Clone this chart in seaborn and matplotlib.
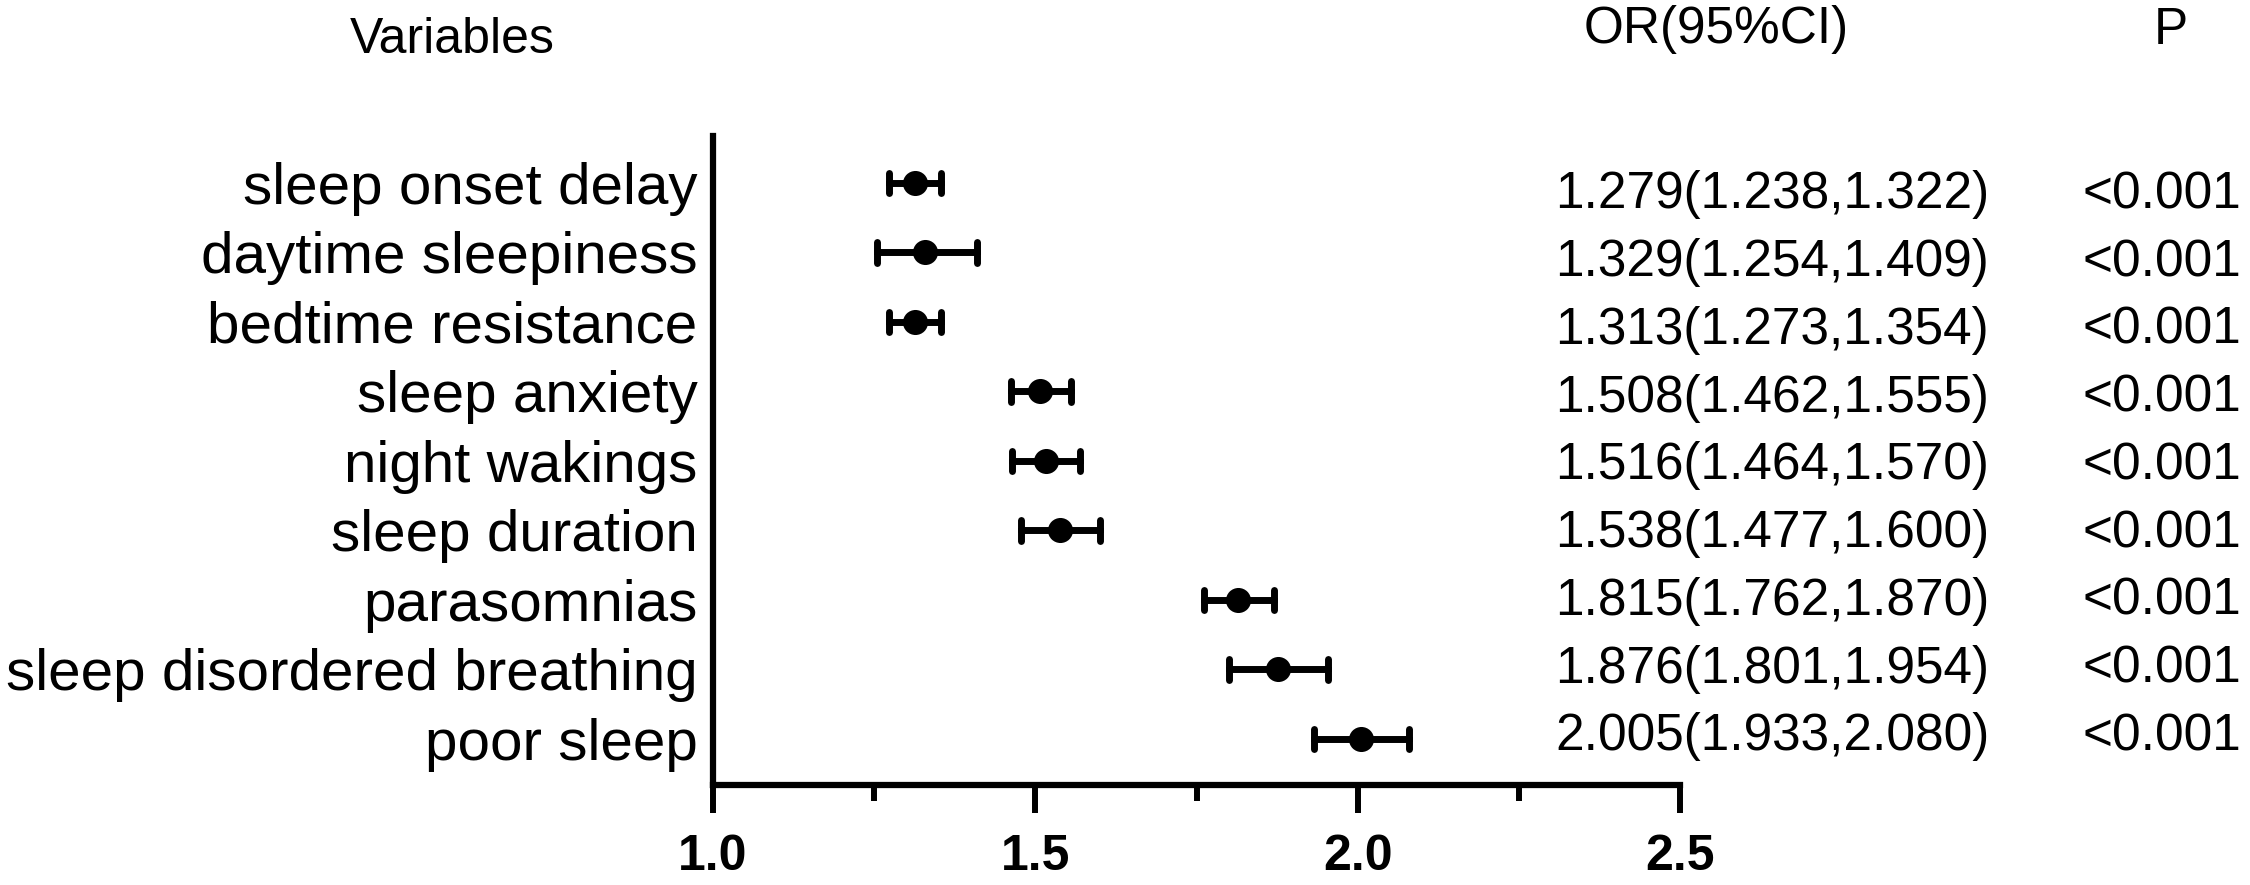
import numpy as np
import pandas as pd
import matplotlib
matplotlib.use("Agg")
import matplotlib.pyplot as plt
import matplotlib.transforms as mtrans
from matplotlib.ticker import MultipleLocator, FormatStrFormatter
import seaborn as sns

# Variables (top to bottom)
variables = ['sleep onset delay', 'daytime sleepiness', 'bedtime resistance',
             'sleep anxiety', 'night wakings', 'sleep duration', 'parasomnias',
             'sleep disordered breathing', 'poor sleep']
# Plotted OR and CI (first row is drawn at the bedtime resistance value)
or_plot = [1.313, 1.329, 1.313, 1.508, 1.516, 1.538, 1.815, 1.876, 2.005]
ci_low = [1.273, 1.254, 1.273, 1.462, 1.464, 1.477, 1.762, 1.801, 1.933]
ci_high = [1.354, 1.409, 1.354, 1.555, 1.570, 1.600, 1.870, 1.954, 2.080]
# Text columns
or_text = ['1.279(1.238,1.322)', '1.329(1.254,1.409)', '1.313(1.273,1.354)',
           '1.508(1.462,1.555)', '1.516(1.464,1.570)', '1.538(1.477,1.600)',
           '1.815(1.762,1.870)', '1.876(1.801,1.954)', '2.005(1.933,2.080)']
p_text = ['<0.001'] * 9
x_ticks = [1.0, 1.5, 2.0, 2.5]

# long table: low / OR / high per variable -> median = OR, 100% interval = CI
df = pd.DataFrame({
    'variable': np.repeat(variables, 3),
    'value': np.ravel(np.column_stack([ci_low, or_plot, ci_high])),
})

sns.set_style('white')
plt.rcParams['font.family'] = ['Liberation Sans', 'DejaVu Sans']
plt.rcParams['text.color'] = 'black'
plt.rcParams['xtick.color'] = 'black'
plt.rcParams['ytick.color'] = 'black'
plt.rcParams['xtick.labelcolor'] = 'black'
plt.rcParams['ytick.labelcolor'] = 'black'

fig = plt.figure(figsize=(22.5, 8.85), dpi=100)
ax = fig.add_axes([713 / 2250, 100 / 885, (1680 - 713) / 2250, 649 / 885])

sns.pointplot(data=df, x='value', y='variable', order=variables, orient='h',
              estimator='median', errorbar=('pi', 100), color='black',
              linestyle='none', markers='o', markersize=16, capsize=0.3,
              err_kws={'linewidth': 5}, ax=ax)

ax.set_xlim(1.0, 2.5)
ax.set_ylim(8.662, -0.676)
ax.xaxis.set_major_locator(MultipleLocator(0.5))
ax.xaxis.set_minor_locator(MultipleLocator(0.25))
ax.xaxis.set_major_formatter(FormatStrFormatter('%.1f'))
ax.set_xticks(x_ticks)
ax.tick_params(axis='x', which='major', length=20, width=4.3, pad=15,
               labelsize=36, color='black', bottom=True)
ax.tick_params(axis='x', which='minor', length=11.5, width=4.3, color='black', bottom=True)
for lab in ax.get_xticklabels():
    lab.set_fontweight('bold')
ax.tick_params(axis='y', length=0, pad=11, labelsize=42)
ax.set_xlabel('')
ax.set_ylabel('')

sns.despine(ax=ax)
for s in ['left', 'bottom']:
    ax.spines[s].set_linewidth(4.5)
    ax.spines[s].set_color('black')

# text columns: x in figure coords, y in data rows
trans = mtrans.blended_transform_factory(fig.transFigure, ax.transData)
for i in range(len(variables)):
    yy = 0.17 + i * 0.975
    ax.text(1555 / 2250, yy, or_text[i], transform=trans, ha='left', va='center',
            fontsize=37, color='black', clip_on=False)
    ax.text(2241 / 2250, yy, p_text[i], transform=trans, ha='right', va='center',
            fontsize=37, color='black', clip_on=False)

fig.text(452 / 2250, 1 - 40 / 885, 'Variables', ha='center', va='center', fontsize=36)
fig.text(1716 / 2250, 1 - 30 / 885, 'OR(95%CI)', ha='center', va='center', fontsize=37)
fig.text(2171 / 2250, 1 - 30 / 885, 'P', ha='center', va='center', fontsize=37)

fig.savefig('out.png', dpi=100, facecolor='white')
